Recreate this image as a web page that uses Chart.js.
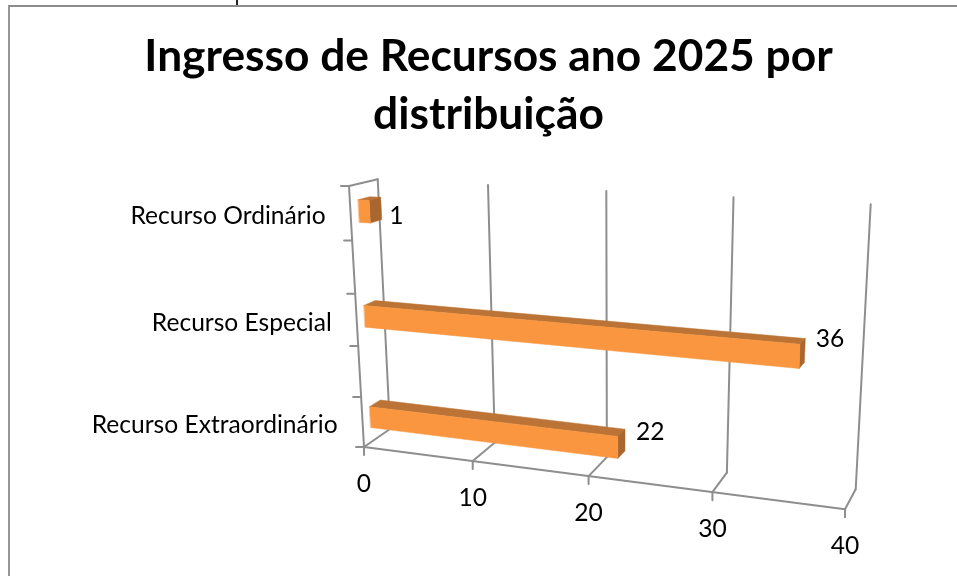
<!DOCTYPE html>
<html><head><meta charset="utf-8">
<style>
html,body{margin:0;padding:0;background:#fff;width:957px;height:576px;overflow:hidden}
#frame{position:absolute;left:8px;top:5px;right:-4px;bottom:-4px;border-left:2px solid #969696;border-top:2px solid #8c8c8c}
#stem{position:absolute;left:236px;top:0;width:2px;height:5px;background:#222}
canvas{position:absolute;left:0;top:0}
</style>
<script src="https://cdn.jsdelivr.net/npm/chart.js@4/dist/chart.umd.min.js"></script>
</head><body>
<div id="frame"></div><div id="stem"></div>
<canvas id="c" width="957" height="576"></canvas>
<script>
const titleLines = ["Ingresso de Recursos ano 2025 por", "distribuição"];
const categories = ["Recurso Ordinário", "", "Recurso Especial", "", "Recurso Extraordinário"];
const values = [1, null, 36, null, 22];
const seriesName = "Ingresso";
const valueMin = 0, valueMax = 40, valueStep = 10;

// View of the 3D box: screen corners [u0v0, u1v0, u1v1, u0v1] of its back and front planes
const backPlane  = [[377.7,179.3],[870.7,204.3],[855.7,489.3],[390,429]];
const frontPlane = [[349,186],[859,213],[845,509.3],[364,447]];
const depthFront = 0.29, depthBack = 0.70;
const GREY = "#8e8e8e", FACE = "#F9963F", TOP = "#BB7436", SIDE = "#A9662F";

function homography(q){
  const [[x0,y0],[x1,y1],[x2,y2],[x3,y3]] = q;
  const sx=x0-x1+x2-x3, sy=y0-y1+y2-y3, dx1=x1-x2, dx2=x3-x2, dy1=y1-y2, dy2=y3-y2;
  const den=dx1*dy2-dx2*dy1, g=(sx*dy2-dx2*sy)/den, h=(dx1*sy-sx*dy1)/den;
  const a=x1-x0+g*x1, b=x3-x0+h*x3, d=y1-y0+g*y1, e=y3-y0+h*y3;
  return (u,v)=>{const w=g*u+h*v+1; return [(a*u+b*v+x0)/w,(d*u+e*v+y0)/w];};
}
const hBack=homography(backPlane), hFront=homography(frontPlane);
function P(u,v,z){ // z: 0 = front of box, 1 = back wall
  const f=hFront(u,v), b=hBack(u,v);
  return [f[0]+(b[0]-f[0])*z, f[1]+(b[1]-f[1])*z];
}
function line(ctx,a,b){ctx.beginPath();ctx.moveTo(a[0],a[1]);ctx.lineTo(b[0],b[1]);ctx.stroke();}
function poly(ctx,pts,fill){
  ctx.beginPath();pts.forEach((p,i)=>i?ctx.lineTo(p[0],p[1]):ctx.moveTo(p[0],p[1]));
  ctx.closePath();ctx.fillStyle=fill;ctx.fill();
  ctx.strokeStyle=fill;ctx.lineWidth=0.5;ctx.stroke();
}
const labelNudge = {0:[8,8],2:[11,-11],4:[11,-8]};

const box3d = {
  id:"box3d",
  beforeDatasetsDraw(chart){
    const {ctx,chartArea:A,scales:{x:sx,y:sy}}=chart;
    const U=px=>(px-A.left)/(A.right-A.left), V=py=>(py-A.top)/(A.bottom-A.top);
    ctx.save();
    ctx.strokeStyle=GREY;ctx.lineWidth=2;ctx.lineCap="round";ctx.lineJoin="round";
    // walls, grid and floor from the value scale
    sx.ticks.forEach(t=>{
      const u=U(sx.getPixelForValue(t.value));
      line(ctx,P(u,0,1),P(u,1,1));
      line(ctx,P(u,1,1),P(u,1,0));
      const f=P(u,1,0);
      line(ctx,f,[f[0],f[1]+8]);
    });
    line(ctx,P(0,1,0),P(1,1,0));
    line(ctx,P(0,0,0),P(0,1,0));
    line(ctx,P(0,0,0),P(0,0,1));
    // category separators on the left wall
    for(let i=0;i<=categories.length;i++){
      const v=i/categories.length, p=P(0,v,0);
      line(ctx,[p[0]-8,p[1]],p);
    }
    // bars from the library's own elements
    const els=chart.getDatasetMeta(0).data;
    els.forEach((el,i)=>{
      if(values[i]==null) return;
      const u1=U(el.x), u0=U(el.base), v0=V(el.y-el.height/2), v1=V(el.y+el.height/2);
      const a=depthFront,b=depthBack;
      poly(ctx,[P(u0,v0,a),P(u1,v0,a),P(u1,v0,b),P(u0,v0,b)],TOP);
      poly(ctx,[P(u1,v0,a),P(u1,v0,b),P(u1,v1,b),P(u1,v1,a)],SIDE);
      poly(ctx,[P(u0,v0,a),P(u1,v0,a),P(u1,v1,a),P(u0,v1,a)],el.options.backgroundColor);
    });
    // texts
    ctx.fillStyle="#000";ctx.font="24.6px Lato";ctx.textBaseline="middle";
    categories.forEach((c,i)=>{
      if(!c) return;
      const v=V(sy.getPixelForValue(i)), p=P(0,v,0);
      ctx.textAlign="right";ctx.fillText(sy.getLabelForValue(i),p[0]-25,p[1]+2.5);
    });
    ctx.textAlign="center";
    sx.ticks.forEach(t=>{
      const p=P(U(sx.getPixelForValue(t.value)),1,0);
      ctx.fillText(t.label,p[0],p[1]+37);
    });
    ctx.textAlign="left";
    els.forEach((el,i)=>{
      if(values[i]==null) return;
      const u1=U(el.x), p=P(u1,V(el.y),depthBack), n=labelNudge[i];
      ctx.fillText(String(values[i]),p[0]+n[0],p[1]+n[1]);
    });
    ctx.restore();
    return false;
  }
};

new Chart(document.getElementById("c"),{
  type:"bar",
  data:{labels:categories,datasets:[{label:seriesName,data:values,backgroundColor:FACE,barPercentage:0.42,categoryPercentage:1}]},
  plugins:[box3d],
  options:{
    indexAxis:"y",responsive:false,animation:false,
    layout:{padding:{left:20,right:0,top:0,bottom:0}},
    plugins:{
      legend:{display:false},tooltip:{enabled:false},
      title:{display:true,text:titleLines,color:"#000",padding:{top:28,bottom:20},
             font:{family:"Lato",weight:"bold",size:44.3,lineHeight:1.31}}
    },
    scales:{
      x:{display:false,min:valueMin,max:valueMax,ticks:{stepSize:valueStep}},
      y:{display:false}
    }
  }
});
</script>
</body></html>
